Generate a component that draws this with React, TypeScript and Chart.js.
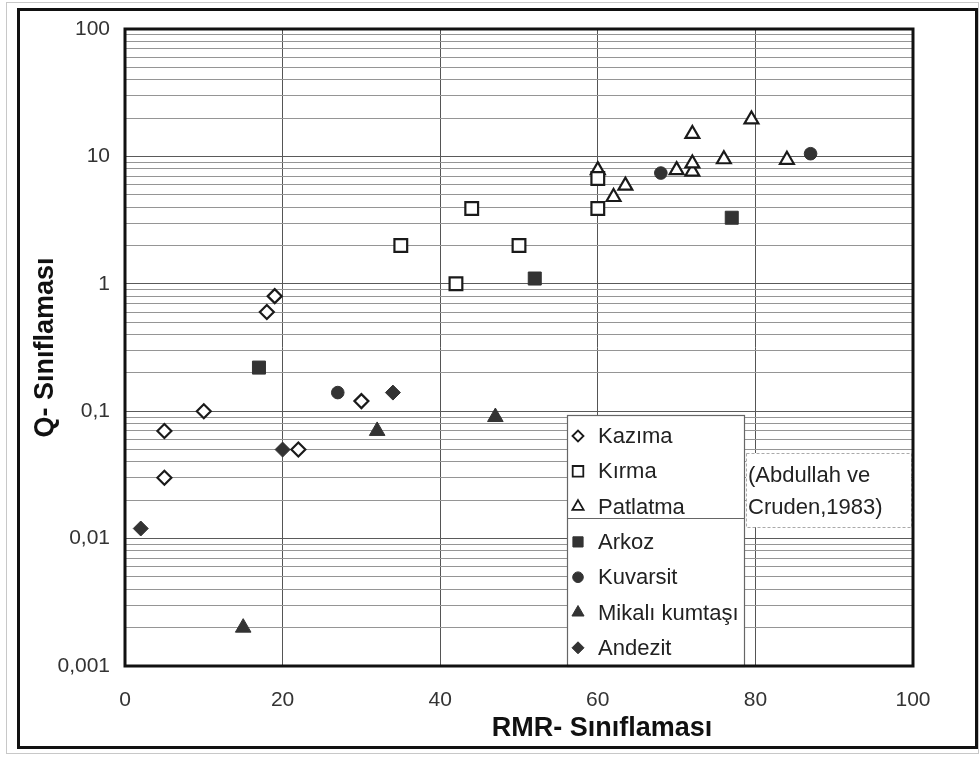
import { useEffect, useRef } from "react";
import { Chart, registerables } from "chart.js";

Chart.register(...registerables);

// Series values: RMR (x) and Q (y)
const kazimaX = [5, 5, 10, 18, 19, 22, 30];
const kazimaY = [0.07, 0.03, 0.1, 0.6, 0.8, 0.05, 0.12];

const kirmaX = [35, 42, 44, 50, 60, 60];
const kirmaY = [2, 1, 3.9, 2, 6.7, 3.9];

const patlatmaX = [60, 62, 63.5, 70, 72, 72, 72, 76, 79.5, 84];
const patlatmaY = [7.8, 4.8, 5.9, 7.8, 7.6, 8.8, 15, 9.5, 19.5, 9.4];

const arkozX = [17, 52, 77];
const arkozY = [0.22, 1.1, 3.3];

const kuvarsitX = [27, 68, 87];
const kuvarsitY = [0.14, 7.4, 10.5];

const mikaliX = [15, 32, 47];
const mikaliY = [0.002, 0.07, 0.09];

const andezitX = [2, 20, 34];
const andezitY = [0.012, 0.05, 0.14];

const seriesNames = ["Kazıma", "Kırma", "Patlatma", "Arkoz", "Kuvarsit", "Mikalı kumtaşı", "Andezit"];
const seriesX = [kazimaX, kirmaX, patlatmaX, arkozX, kuvarsitX, mikaliX, andezitX];
const seriesY = [kazimaY, kirmaY, patlatmaY, arkozY, kuvarsitY, mikaliY, andezitY];

// Axis ticks
const xTicks = [0, 20, 40, 60, 80, 100];
const yDecades = [0.001, 0.01, 0.1, 1, 10, 100];
const yTickLabels = ["0,001", "0,01", "0,1", "1", "10", "100"];

const xTitle = "RMR- Sınıflaması";
const yTitle = "Q- Sınıflaması";
const sourceNote = ["(Abdullah ve", "Cruden,1983)"];

// Marker appearance per series
const pointStyles = ["rectRot", "rect", "triangle", "rect", "circle", "triangle", "rectRot"];
const pointRadii = [7, 9, 8, 9.2, 6.3, 9, 7.5];
const legendRadii = [5.5, 7.5, 6.5, 7.2, 5.3, 7, 6];
const filledFlags = [false, false, false, true, true, true, true];

const FONT = '"Liberation Sans", Arial, sans-serif';
const INK = "#1a1a1a";
const FILL = "#333333";

// Log grid: 1..9 × each decade, plus the top decade
const yGridTicks: number[] = [];
yDecades.slice(0, -1).forEach((d) => {
  for (let m = 1; m <= 9; m++) yGridTicks.push(parseFloat((m * d).toPrecision(3)));
});
yGridTicks.push(yDecades[yDecades.length - 1]);

const decadeIndex = (v: number) =>
  yDecades.findIndex((d) => Math.abs(Math.log10(v) - Math.log10(d)) < 1e-6);

function markerPath(ctx: CanvasRenderingContext2D, style: string, x: number, y: number, r: number) {
  ctx.beginPath();
  if (style === "rectRot") {
    ctx.moveTo(x - r, y);
    ctx.lineTo(x, y - r);
    ctx.lineTo(x + r, y);
    ctx.lineTo(x, y + r);
    ctx.closePath();
  } else if (style === "rect") {
    const s = Math.SQRT1_2 * r;
    ctx.rect(x - s, y - s, 2 * s, 2 * s);
  } else if (style === "triangle") {
    const w = r * 0.866;
    ctx.moveTo(x, y - r * 0.75 - r * 0.25);
    ctx.lineTo(x + w, y + r * 0.5);
    ctx.lineTo(x - w, y + r * 0.5);
    ctx.closePath();
  } else {
    ctx.arc(x, y, r, 0, Math.PI * 2);
  }
}

const decorations = {
  id: "decorations",
  beforeDraw(chart: any) {
    const { ctx, width, height } = chart;
    ctx.save();
    ctx.fillStyle = "#ffffff";
    ctx.fillRect(0, 0, width, height);
    ctx.restore();
  },
  afterDatasetsDraw(chart: any) {
    const ctx: CanvasRenderingContext2D = chart.ctx;
    const area = chart.chartArea;
    ctx.save();

    // Legend panel
    const lx0 = 567, lx1 = 744, ly0 = 415, lySplit = 518, ly1 = area.bottom;
    ctx.fillStyle = "#ffffff";
    ctx.fillRect(lx0, ly0, lx1 - lx0, ly1 - ly0);
    ctx.strokeStyle = "#666";
    ctx.lineWidth = 1.2;
    ctx.strokeRect(lx0 + 0.5, ly0 + 0.5, lx1 - lx0, ly1 - ly0);
    ctx.beginPath();
    ctx.moveTo(lx0, lySplit + 0.5);
    ctx.lineTo(lx1, lySplit + 0.5);
    ctx.stroke();

    ctx.font = `22px ${FONT}`;
    ctx.textBaseline = "middle";
    ctx.textAlign = "left";
    seriesNames.forEach((name, i) => {
      const y = 436 + i * 35.3;
      const filled = filledFlags[i];
      markerPath(ctx, pointStyles[i], 578, y, legendRadii[i]);
      ctx.fillStyle = filled ? FILL : "#ffffff";
      ctx.fill();
      ctx.strokeStyle = filled ? FILL : INK;
      ctx.lineWidth = filled ? 1 : 1.8;
      ctx.stroke();
      ctx.fillStyle = "#222";
      ctx.fillText(name, 598, y + 1);
    });

    // Source note box
    const nx0 = 746, nx1 = 911, ny0 = 453, ny1 = 527;
    ctx.fillStyle = "#ffffff";
    ctx.fillRect(nx0, ny0, nx1 - nx0, ny1 - ny0);
    ctx.strokeStyle = "#aaaaaa";
    ctx.lineWidth = 1;
    ctx.setLineDash([3, 2]);
    ctx.strokeRect(nx0 + 0.5, ny0 + 0.5, nx1 - nx0, ny1 - ny0);
    ctx.setLineDash([]);
    ctx.fillStyle = "#222";
    ctx.font = `22px ${FONT}`;
    sourceNote.forEach((line, i) => ctx.fillText(line, 748, 476 + i * 32));

    ctx.restore();
  },
  afterDraw(chart: any) {
    const ctx: CanvasRenderingContext2D = chart.ctx;
    const area = chart.chartArea;
    ctx.save();

    // X axis title
    ctx.fillStyle = "#111";
    ctx.font = `bold 27px ${FONT}`;
    ctx.textAlign = "center";
    ctx.textBaseline = "middle";
    ctx.fillText(xTitle, 602, 729);

    // Plot frame
    ctx.strokeStyle = "#111";
    ctx.lineWidth = 3;
    ctx.strokeRect(area.left, area.top, area.right - area.left, area.bottom - area.top);

    // Outer frame
    ctx.strokeRect(18.5, 9.5, 958, 738);
    ctx.strokeStyle = "#c8c8c8";
    ctx.lineWidth = 1;
    ctx.strokeRect(6.5, 2.5, 972, 751);
    ctx.restore();
  },
};

export default function App() {
  const canvasRef = useRef<HTMLCanvasElement | null>(null);

  useEffect(() => {
    const canvas = canvasRef.current;
    if (!canvas) return;

    const datasets = seriesNames.map((name, i) => ({
      label: name,
      data: seriesX[i].map((x, j) => ({ x, y: seriesY[i][j] })),
      showLine: false,
      pointStyle: pointStyles[i],
      pointRadius: pointRadii[i],
      pointHoverRadius: pointRadii[i],
      pointBackgroundColor: filledFlags[i] ? FILL : "#ffffff",
      pointBorderColor: filledFlags[i] ? FILL : INK,
      pointBorderWidth: filledFlags[i] ? 1 : 2.2,
    }));

    const chart = new Chart(canvas, {
      type: "scatter",
      data: { datasets } as any,
      options: {
        responsive: false,
        animation: false,
        devicePixelRatio: 1,
        events: [],
        layout: { padding: { left: 0, top: 29, right: 67, bottom: 0 }, autoPadding: false },
        plugins: { legend: { display: false }, tooltip: { enabled: false } },
        scales: {
          x: {
            type: "linear",
            min: 0,
            max: 100,
            afterBuildTicks: (s: any) => {
              s.ticks = xTicks.map((value) => ({ value }));
            },
            afterFit: (s: any) => {
              s.height = 91;
            },
            grid: { color: "#555", lineWidth: 1, drawTicks: false },
            border: { display: false },
            ticks: {
              padding: 22,
              autoSkip: false,
              maxRotation: 0,
              color: "#333",
              font: { family: FONT, size: 21 },
            },
          },
          y: {
            type: "logarithmic",
            min: 0.001,
            max: 100,
            afterBuildTicks: (s: any) => {
              s.ticks = yGridTicks.map((value) => ({ value }));
            },
            afterFit: (s: any) => {
              s.width = 125;
            },
            grid: {
              drawTicks: false,
              lineWidth: 1,
              color: (c: any) => (decadeIndex(c.tick.value) >= 0 ? "#5a5a5a" : "#959595"),
            },
            border: { display: false },
            ticks: {
              padding: 15,
              autoSkip: false,
              color: "#333",
              font: { family: FONT, size: 21 },
              callback: (v: any) => {
                const k = decadeIndex(Number(v));
                return k >= 0 ? yTickLabels[k] : "";
              },
            },
            title: {
              display: true,
              text: yTitle,
              color: "#111",
              font: { family: FONT, size: 27, weight: "bold" },
              padding: { top: 29, bottom: 0 },
            },
          },
        },
      } as any,
      plugins: [decorations],
    });

    return () => chart.destroy();
  }, []);

  return (
    <div style={{ position: "absolute", left: 0, top: 0, width: 980, height: 757, background: "#fff" }}>
      <canvas ref={canvasRef} width={980} height={757} style={{ display: "block" }} />
    </div>
  );
}
